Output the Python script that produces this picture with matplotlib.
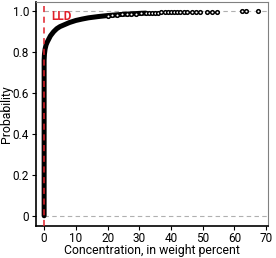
import numpy as np
import matplotlib
matplotlib.use("Agg")
import matplotlib.pyplot as plt

plt.rcParams['font.family'] = ['Liberation Sans Narrow', 'Roboto', 'DejaVu Sans']

# dense part of the cumulative distribution
conc_curve = [0, 0, 0.1, 0.3, 0.6, 1.0, 1.5, 2.0, 3.0, 4.0, 5.0, 6.5, 8, 10,
              12, 14, 17, 20, 24, 28, 32]
prob_curve = [0.0, 0.76, 0.79, 0.815, 0.835, 0.85, 0.865, 0.88, 0.90, 0.915,
              0.925, 0.935, 0.945, 0.955, 0.962, 0.968, 0.974, 0.979, 0.984,
              0.988, 0.991]

# sparse tail, individual samples
conc_tail = [20, 21.5, 23, 24.5, 26, 27.5, 29, 30.5, 32, 33, 34, 35, 36,
             37, 38, 39, 40, 41, 42, 43, 44, 45, 46.5, 48, 49, 51.5, 53,
             54.5, 62.5, 63.8, 67.5]
prob_tail = [0.979, 0.981, 0.983, 0.985, 0.986, 0.988, 0.989, 0.990, 0.991,
             0.992, 0.992, 0.993, 0.993, 0.994, 0.994, 0.994, 0.995, 0.995,
             0.995, 0.996, 0.996, 0.996, 0.997, 0.997, 0.997, 0.998, 0.998,
             0.998, 0.999, 0.999, 0.999]

lld = 0.0
xticks = [0, 10, 20, 30, 40, 50, 60, 70]
yticks = [0, 0.2, 0.4, 0.6, 0.8, 1.0]
ytick_labels = ['0', '0.2', '0.4', '0.6', '0.8', '1.0']

fig = plt.figure(figsize=(2.76, 2.58), dpi=100)
ax = fig.add_axes([0.130, 0.124, 0.841, 0.868])

ax.hlines([0, 1], lld, 72, colors='#b0b0b0', linestyles=(0, (4, 3)), lw=0.8, zorder=1)
ax.plot(conc_curve, prob_curve, color='black', lw=3.6, solid_capstyle='round', zorder=2)
ax.plot(conc_tail, prob_tail, 'o', ms=2.6, mfc='white', mec='black', mew=1.1,
        color='black', zorder=3)
ax.axvline(lld, color='#e0202a', ls=(0, (4, 3)), lw=1.1, zorder=4)
ax.text(2.4, 0.975, 'LLD', color='#e0202a', fontsize=8.5, fontweight='bold',
        ha='left', va='center')

ax.set_xlim(-2.6, 70.6)
ax.set_ylim(-0.05, 1.045)
ax.set_xticks(xticks)
ax.set_yticks(yticks)
ax.set_yticklabels(ytick_labels)
ax.tick_params(labelsize=8.5, length=3, width=0.8, pad=2)
ax.tick_params(axis='x', pad=1)
ax.set_xlabel('Concentration, in weight percent', fontsize=8.8)
ax.set_ylabel('Probability', fontsize=8.8)
ax.yaxis.set_label_coords(-0.098, 0.5)
ax.xaxis.set_label_coords(0.5, -0.082)

for side in ['top', 'right']:
    ax.spines[side].set_color('#808080')
    ax.spines[side].set_linewidth(0.8)
for side in ['left', 'bottom']:
    ax.spines[side].set_linewidth(1.2)

fig.savefig('out.png', dpi=100)
